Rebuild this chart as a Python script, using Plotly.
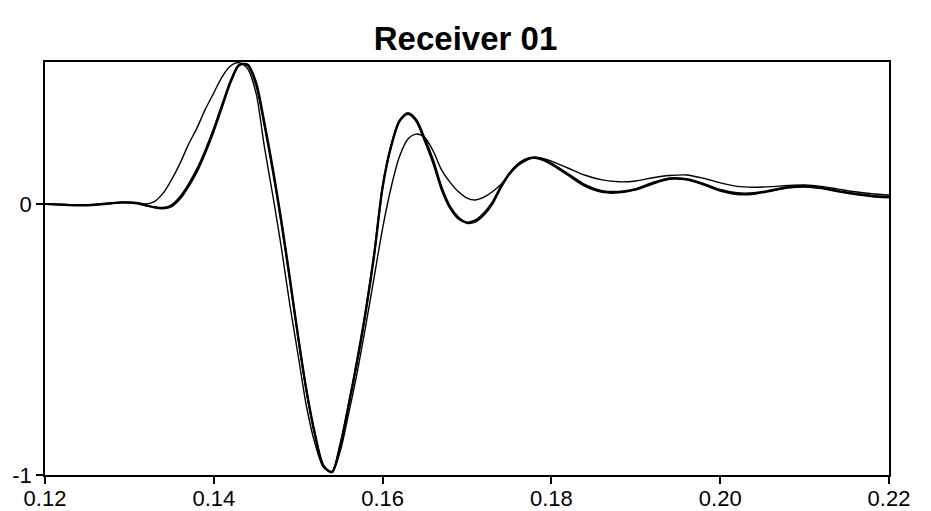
import plotly.graph_objects as go

# time samples (s)
time = [0.120, 0.122, 0.124, 0.126, 0.128, 0.129, 0.130, 0.131, 0.132, 0.133,
        0.134, 0.135, 0.136, 0.137, 0.138, 0.139, 0.140, 0.141, 0.142, 0.143,
        0.144, 0.145, 0.146, 0.147, 0.148, 0.149, 0.150, 0.151, 0.152, 0.153,
        0.154, 0.155, 0.156, 0.157, 0.158, 0.159, 0.160, 0.161, 0.162, 0.163,
        0.164, 0.165, 0.166, 0.167, 0.168, 0.169, 0.170, 0.171, 0.172, 0.173,
        0.174, 0.175, 0.176, 0.177, 0.178, 0.179, 0.180, 0.182, 0.184, 0.186,
        0.188, 0.190, 0.192, 0.194, 0.196, 0.198, 0.200, 0.202, 0.204, 0.206,
        0.208, 0.210, 0.212, 0.214, 0.216, 0.218, 0.220]

# thick trace 1
trace_a = [0.000, -0.003, -0.005, -0.003, 0.003, 0.006, 0.006, 0.003, -0.005, -0.013,
           -0.016, -0.008, 0.020, 0.065, 0.120, 0.190, 0.270, 0.360, 0.450, 0.512,
           0.515, 0.450, 0.300, 0.130, -0.060, -0.270, -0.490, -0.690, -0.850, -0.965,
           -0.990, -0.890, -0.740, -0.580, -0.400, -0.190, 0.060, 0.210, 0.305, 0.335,
           0.310, 0.240, 0.160, 0.060, -0.010, -0.050, -0.070, -0.065, -0.040, 0.000,
           0.060, 0.110, 0.145, 0.165, 0.172, 0.165, 0.150, 0.110, 0.070, 0.048,
           0.045, 0.055, 0.078, 0.095, 0.092, 0.075, 0.052, 0.040, 0.040, 0.050,
           0.062, 0.066, 0.060, 0.048, 0.038, 0.030, 0.026]

# thick trace 2
trace_b = [0.000, -0.002, -0.004, -0.002, 0.004, 0.006, 0.005, 0.002, -0.006, -0.012,
           -0.014, -0.004, 0.026, 0.072, 0.128, 0.198, 0.278, 0.368, 0.455, 0.514,
           0.512, 0.440, 0.290, 0.120, -0.070, -0.280, -0.495, -0.695, -0.855, -0.968,
           -0.988, -0.885, -0.735, -0.572, -0.392, -0.182, 0.066, 0.215, 0.308, 0.332,
           0.305, 0.232, 0.150, 0.052, -0.016, -0.055, -0.068, -0.060, -0.034, 0.006,
           0.064, 0.112, 0.146, 0.165, 0.170, 0.162, 0.146, 0.106, 0.066, 0.044,
           0.042, 0.053, 0.075, 0.092, 0.090, 0.072, 0.049, 0.036, 0.037, 0.048,
           0.060, 0.064, 0.058, 0.046, 0.036, 0.028, 0.024]

# thin trace
trace_c = [0.000, -0.002, -0.004, -0.002, 0.003, 0.005, 0.005, 0.003, 0.000, 0.010,
           0.040, 0.090, 0.150, 0.220, 0.280, 0.350, 0.410, 0.470, 0.510, 0.522,
           0.500, 0.410, 0.210, 0.030, -0.160, -0.370, -0.560, -0.750, -0.885, -0.972,
           -0.990, -0.910, -0.770, -0.620, -0.450, -0.270, -0.090, 0.060, 0.175, 0.240,
           0.258, 0.245, 0.195, 0.125, 0.080, 0.045, 0.022, 0.015, 0.025, 0.045,
           0.072, 0.108, 0.140, 0.160, 0.172, 0.168, 0.158, 0.132, 0.106, 0.089,
           0.082, 0.085, 0.097, 0.105, 0.107, 0.095, 0.078, 0.065, 0.062, 0.064,
           0.068, 0.070, 0.065, 0.055, 0.045, 0.038, 0.033]

x_ticks = [0.12, 0.14, 0.16, 0.18, 0.20, 0.22]
x_tick_labels = ["0.12", "0.14", "0.16", "0.18", "0.20", "0.22"]
y_ticks = [-1, 0]
y_tick_labels = ["-1", "0"]

FONT = "Liberation Sans, Arial, sans-serif"

fig = go.Figure()
fig.add_trace(go.Scatter(x=time, y=trace_c, mode="lines",
                         line=dict(color="black", width=1.4, shape="spline", smoothing=0.8)))
fig.add_trace(go.Scatter(x=time, y=trace_a, mode="lines",
                         line=dict(color="black", width=2.2, shape="spline", smoothing=0.8)))
fig.add_trace(go.Scatter(x=time, y=trace_b, mode="lines",
                         line=dict(color="black", width=2.0, shape="spline", smoothing=0.8)))

fig.update_layout(
    width=931, height=511,
    margin=dict(l=45, r=42, t=62, b=36),
    paper_bgcolor="white", plot_bgcolor="white",
    showlegend=False,
    font=dict(family=FONT, color="black", size=22),
    title=dict(text="<b>Receiver 01</b>", x=0.5, xanchor="center",
               y=0.925, yanchor="middle",
               font=dict(size=33, family=FONT, color="black")),
)
fig.update_xaxes(range=[0.12, 0.22], tickvals=x_ticks, ticktext=x_tick_labels,
                 showgrid=False, zeroline=False, showline=True, linecolor="black",
                 linewidth=1.6, mirror=True, ticks="outside", ticklen=7, tickwidth=1.6,
                 tickcolor="black", tickfont=dict(size=22, family=FONT), automargin=False,
                 ticklabelstandoff=-4)
fig.update_yaxes(range=[-1, 0.524], tickvals=y_ticks, ticktext=y_tick_labels,
                 showgrid=False, zeroline=False, showline=True, linecolor="black",
                 linewidth=1.6, mirror=True, ticks="outside", ticklen=7, tickwidth=1.6,
                 tickcolor="black", tickfont=dict(size=22, family=FONT), automargin=False)

fig.write_html("out.html")
